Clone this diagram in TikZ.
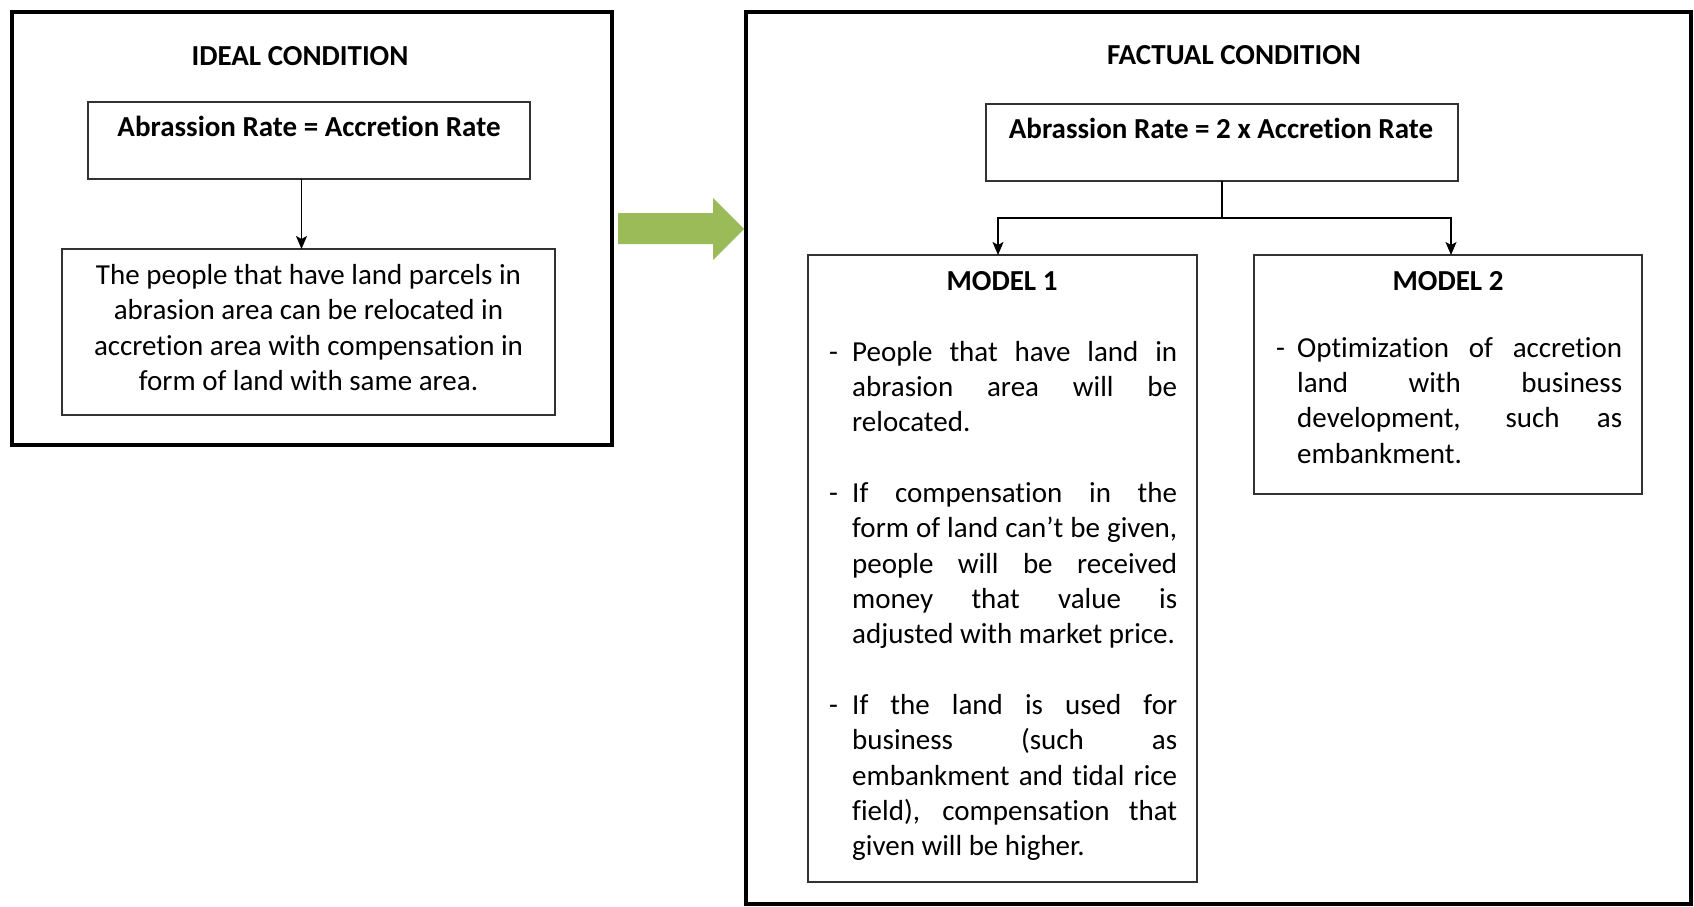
\documentclass[tikz,border=0pt]{standalone}
\usepackage{fontspec}
\setmainfont{Carlito}[Ligatures=NoCommon]
\usetikzlibrary{arrows.meta}
\definecolor{arrowgreen}{RGB}{155,187,89}
\definecolor{boxline}{RGB}{50,50,50}
\tikzset{
  outerbox/.style={draw=black, line width=4.5pt, outer sep=0pt, inner sep=0pt, anchor=north west},
  innerbox/.style={draw=boxline, line width=1.8pt, outer sep=0pt, inner sep=0pt, anchor=north west},
  title/.style={font=\fontsize{29}{35.35}\selectfont\bfseries, inner sep=0pt, anchor=base},
  body/.style={font=\fontsize{29}{35.35}\selectfont, inner sep=0pt},
  bullettext/.style={body, anchor=base west},
  dashmark/.style={body, anchor=base west},
  conn/.style={draw=black, line width=1.5pt},
  arr/.style={conn, -{Stealth[length=13pt,width=11pt,inset=3pt]}}
}
\newcommand{\jl}[1]{\makebox[325pt][s]{#1}}
\newcommand{\lines}[1]{\begin{tabular}[t]{@{}l@{}}#1\end{tabular}}
\newcommand{\clines}[1]{\begin{tabular}[t]{@{}c@{}}#1\end{tabular}}
\begin{document}
\begin{tikzpicture}[x=1pt,y=-1pt]
\useasboundingbox (0,0) rectangle (1694,907);
% outer frames
\node[outerbox, minimum width=600pt, minimum height=433pt] (L) at (12,12) {};
\node[outerbox, minimum width=945pt, minimum height=892pt] (R) at (746,12) {};
% titles
\node[title] (Lt) at (300,66) {IDEAL CONDITION};
\node[title] (Rt) at (1234,65) {FACTUAL CONDITION};
% left boxes
\node[innerbox, minimum width=442pt, minimum height=77pt] (A1) at (88,102) {};
\node[title] (A1t) at (309,136) {Abrassion Rate = Accretion Rate};
\node[innerbox, minimum width=493pt, minimum height=166pt] (A2) at (62,249) {};
\node[body, anchor=base] (A2t) at (308.5,284.5)
  {\clines{The people that have land parcels in\\abrasion area can be relocated in\\accretion area with compensation in\\form of land with same area.}};
\draw[arr] ([xshift=-7.5pt]A1.south) -- ([xshift=-7.5pt]A1.south |- A2.north);
% green arrow
\fill[arrowgreen] (618,213) -- (713,213) -- (713,198) -- (744,229) -- (713,260) -- (713,244) -- (618,244) -- cycle;
% right boxes
\node[innerbox, minimum width=472pt, minimum height=77pt] (F1) at (986,104) {};
\node[title] (F1t) at (1221,138) {Abrassion Rate = 2 x Accretion Rate};
\node[innerbox, minimum width=389pt, minimum height=627pt] (M1) at (808,255) {};
\node[innerbox, minimum width=388pt, minimum height=239pt] (M2) at (1254,255) {};
\coordinate (J) at (1222,218);
\draw[conn] (F1.south) -- (J);
\draw[arr] (J) -| ([xshift=-4.5pt]M1.north);
\draw[arr] (J) -| ([xshift=3pt]M2.north);
% model 1
\node[title] (M1t) at (1002,290) {MODEL 1};
\node[dashmark] (M1d1) at (829,361) {-};
\node[bullettext] (M1b1) at (852,361)
  {\lines{\jl{People that have land in}\\\jl{abrasion area will be}\\relocated.}};
\node[dashmark] (M1d2) at (829,502.4) {-};
\node[bullettext] (M1b2) at (852,502.4)
  {\lines{\jl{If compensation in the}\\\jl{form of land can’t be given,}\\\jl{people will be received}\\\jl{money that value is}\\adjusted with market price.}};
\node[dashmark] (M1d3) at (829,714.5) {-};
\node[bullettext] (M1b3) at (852,714.5)
  {\lines{\jl{If the land is used for}\\\jl{business (such as}\\\jl{embankment and tidal rice}\\\jl{field), compensation that}\\given will be higher.}};
% model 2
\node[title] (M2t) at (1448,290) {MODEL 2};
\node[dashmark] (M2d1) at (1276,357) {-};
\node[bullettext] (M2b1) at (1297,357)
  {\lines{\jl{Optimization of accretion}\\\jl{land with business}\\\jl{development, such as}\\embankment.}};
\end{tikzpicture}
\end{document}
